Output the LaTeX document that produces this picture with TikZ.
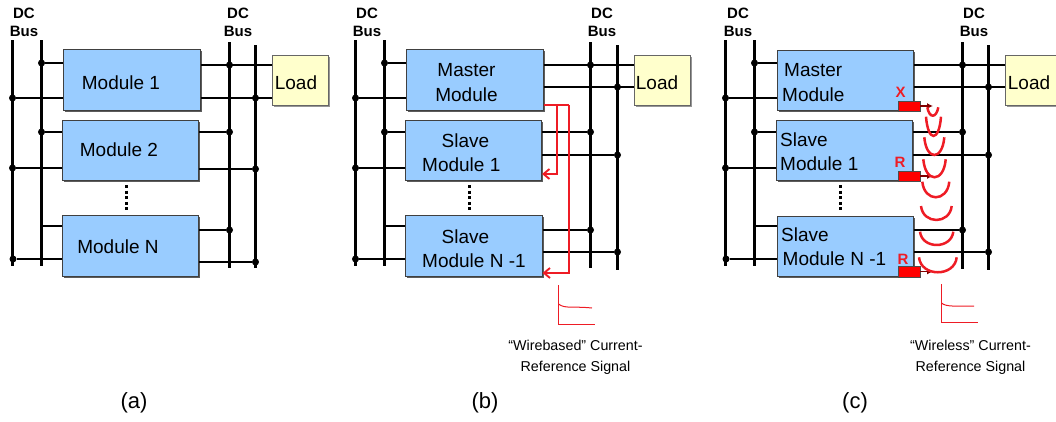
\documentclass[tikz,border=0pt]{standalone}
\usepackage{fontspec}
\setmainfont{Liberation Sans}
\usetikzlibrary{shadows,
                arrows.meta,
                positioning}
\definecolor{moduleblue}{HTML}{99CCFF}
\definecolor{loadyellow}{HTML}{FFFFCC}
\definecolor{signalred}{HTML}{EE1C25}
\tikzset{module/.style =
   {rectangle,
    draw=black!75,
    line width=1pt,
    fill=moduleblue,
    minimum width=136.5pt,
    minimum height=60.5pt,
    inner sep=0pt,
    drop shadow={shadow xshift=1.6pt,shadow yshift=-1.6pt,fill=black!75,opacity=0.85}}}
\tikzset{load/.style =
   {rectangle,
    draw=black!60,
    line width=0.8pt,
    fill=loadyellow,
    minimum width=56pt,
    minimum height=50pt,
    inner sep=0pt,
    drop shadow={shadow xshift=2pt,shadow yshift=-2pt,fill=black!55,opacity=0.75}}}
\tikzset{modtext/.style =
   {align=left,
    inner sep=0pt,
    font=\fontsize{19}{24.5}\selectfont}}
\tikzset{looktext/.style =
   {align=center,
    inner sep=0pt,
    font=\fontsize{19}{24.5}\selectfont}}
\tikzset{bustext/.style =
   {align=center,
    inner sep=0pt,
    font=\fontsize{15}{18}\selectfont\bfseries}}
\tikzset{captext/.style =
   {align=center,
    inner sep=0pt,
    font=\fontsize{14.3}{21}\selectfont}}
\tikzset{tagtext/.style =
   {inner sep=0pt,
    text=signalred,
    font=\fontsize{15}{15}\selectfont\bfseries}}
\tikzset{subtext/.style =
   {inner sep=0pt,
    font=\fontsize{22}{22}\selectfont}}
\tikzset{bus/.style = {draw, line width=2.6pt}}
\tikzset{wire/.style = {draw, line width=1.5pt}}
\tikzset{busdot/.style = {circle, fill=black, inner sep=0pt, minimum size=7pt}}
\tikzset{vdots/.style = {draw, line width=3.4pt, dash pattern=on 3pt off 2.6pt}}
\tikzset{redline/.style = {draw=signalred, line width=1.9pt}}
\tikzset{redarrow/.style = {draw=signalred, line width=1.9pt, -{Straight Barb[length=6pt,width=10pt]}}}
\tikzset{thinred/.style = {draw=signalred, line width=1pt}}
\tikzset{radioarc/.style = {draw=signalred, line width=2.5pt}}
\tikzset{radiobox/.style =
   {rectangle,
    draw=black!70,
    fill=red,
    minimum width=22.5pt,
    minimum height=10.5pt,
    inner sep=0pt}}
\tikzset{radioout/.style = {draw=black!50!red, line width=1.5pt, -{Latex[length=6pt,width=6pt]}}}

\begin{document}
\begin{tikzpicture}[x=1pt,y=-1pt]

    \clip (0,0) rectangle (1056,421);

    \foreach \busname/\busx/\bustop/\busend in
       {aL1/12.5/40/266,aL2/41.5/40/266,aR1/229.5/42/268,aR2/255.5/45/268,
        bL1/355.5/40/266,bL2/384.5/40/266,bR1/590.5/42/268,bR2/617.5/45/270,
        cL1/725.5/40/266,cL2/754.5/40/266,cR1/962.5/42/269,cR2/988.5/45/270} {
        \coordinate (\busname top) at (\busx,\bustop);
        \coordinate (\busname end) at (\busx,\busend);
        \draw [bus] (\busname top) -- (\busname end);
    }

    \node [module] (amod1) at (131.75,80) {};
    \node [module] (amod2) at (130.5,150.5) {};
    \node [module] (amodn) at (130.5,246) {};
    \node [module] (bmod1) at (474.75,80) {};
    \node [module] (bmod2) at (473.25,150.5) {};
    \node [module] (bmodn) at (473.75,246) {};
    \node [module] (cmod1) at (845.5,80.25) {};
    \node [module] (cmod2) at (844.25,150.5) {};
    \node [module] (cmodn) at (845.5,246.5) {};

    \node [load] (aload) at (300,80) {};
    \node [load] (bload) at (662,80) {};
    \node [load] (cload) at (1033,80) {};

    \foreach \dotname/\dotx/\doty/\modname in
       {a1/41.5/63/amod1,a2/12.5/98/amod1,a3/41.5/132/amod2,a4/12.5/168/amod2,a5/13/259/amodn,
        b1/384.5/63/bmod1,b2/355.5/98/bmod1,b3/384.5/132/bmod2,b4/355.5/168/bmod2,b5/355.5/259/bmodn,
        c1/754.5/63/cmod1,c2/725.5/98/cmod1,c3/754.5/132/cmod2,c4/725.5/168/cmod2,c5/726/259/cmodn} {
        \node [busdot] (\dotname) at (\dotx,\doty) {};
        \draw [wire] (\dotname) -- (\dotname -| \modname.west);
    }

    \foreach \dotname/\dotx/\doty/\modname in
       {a6/229.5/132/amod2,a7/255.5/169/amod2,a8/229.5/230/amodn,a9/255.5/262/amodn,
        b6/590.5/132/bmod2,b7/617.5/155/bmod2,b8/590.5/230/bmodn,b9/617.5/252/bmodn,
        c6/962.5/132/cmod2,c7/988.5/155/cmod2,c8/962.5/230/cmodn,c9/988.5/252/cmodn} {
        \node [busdot] (\dotname) at (\dotx,\doty) {};
        \draw [wire] (\dotname -| \modname.east) -- (\dotname);
    }

    \foreach \dotname/\dotx/\doty/\modname/\loadname in
       {a10/229.5/65/amod1/aload,a11/255.5/98/amod1/aload,
        b10/590.5/65/bmod1/bload,b11/617.5/87/bmod1/bload,
        c10/962.5/65/cmod1/cload,c11/988.5/87/cmod1/cload} {
        \node [busdot] (\dotname) at (\dotx,\doty) {};
        \draw [wire] (\dotname -| \modname.east) -- (\dotname -| \loadname.west);
    }

    \draw [wire] (aL2top |- 0,226) -- (amodn.west |- 0,226);
    \draw [wire] (bL2top |- 0,226) -- (bmodn.west |- 0,226);
    \draw [wire] (cL2top |- 0,226) -- (cmodn.west |- 0,226);

    \node [modtext] (atext1) at (121,83) {Module 1};
    \node [modtext] (atext2) at (119,150) {Module 2};
    \node [modtext] (atextn) at (118,247) {Module N};
    \node [looktext] (btext1) at (466.5,82.5) {Master\\Module};
    \node [modtext, anchor=west] (btext2) at (422,152.5) {\hspace*{19.5pt}Slave\\Module 1};
    \node [modtext, anchor=west] (btextn) at (422,248.5) {\hspace*{19.5pt}Slave\\Module N -1};
    \node [modtext, anchor=west] (ctext1) at (782,82.5) {\hspace*{2pt}Master\\Module};
    \node [modtext, anchor=west] (ctext2) at (780,151.5) {Slave\\Module 1};
    \node [modtext, anchor=west] (ctextn) at (781,246.5) {Slave\\\hspace*{1.5pt}Module N -1};

    \node [looktext] (atextl) at (296,83) {Load};
    \node [looktext] (btextl) at (657,83) {Load};
    \node [looktext] (ctextl) at (1029,83) {Load};

    \node [bustext] (abus1) at (24,22) {DC\\Bus};
    \node [bustext] (abus2) at (238,22) {DC\\Bus};
    \node [bustext] (bbus1) at (367,22) {DC\\Bus};
    \node [bustext] (bbus2) at (602,22) {DC\\Bus};
    \node [bustext] (cbus1) at (738,22) {DC\\Bus};
    \node [bustext] (cbus2) at (974,22) {DC\\Bus};

    \foreach \gapname/\gapx in {agap/126.5,bgap/469.5,cgap/840.5} {
        \coordinate (\gapname top) at (\gapx,185);
        \coordinate (\gapname end) at (\gapx,213);
        \draw [vdots] (\gapname top) -- (\gapname end);
    }

    \coordinate (wireout) at (bmod1.east |- 0,105);
    \coordinate (wirefork) at (557,105);
    \coordinate (wirecorner) at (569,105);
    \draw [redline] (wireout) -- (wirecorner);
    \draw [redarrow] (wirefork) -- (wirefork |- 0,174) -- (bmod2.east |- 0,174);
    \draw [redarrow] (wirecorner) -- (wirecorner |- 0,273) -- (bmodn.east |- 0,273);

    \draw [thinred] (558.5,285) -- (558.5,324) -- (595,324);
    \draw [thinred] (558.5,304) .. controls (565,309) and (572,306) .. (592,308);
    \draw [thinred] (941.5,284) -- (941.5,322) -- (978,322);
    \draw [thinred] (941.5,303) .. controls (946,307) and (955,306) .. (974,306);

    \node [captext] (bcap) at (575.5,357) {``Wirebased'' Current-\\Reference Signal};
    \node [captext] (ccap) at (970.5,357) {``Wireless'' Current-\\Reference Signal};

    \node [radiobox] (ctx) at (909,106) {};
    \node [radiobox] (crx1) at (909,176) {};
    \node [radiobox] (crx2) at (909,271.5) {};
    \coordinate (ctxtip) at (933,106);
    \coordinate (crx1tip) at (933,176);
    \coordinate (crx2tip) at (933,271.5);
    \draw [radioout] (ctx) -- (ctxtip);
    \draw [radioout] (crx1) -- (crx1tip);
    \draw [radioout] (crx2) -- (crx2tip);
    \node [tagtext] (ctag) at (900.5,92) {X};
    \node [tagtext] (crag1) at (900,162) {R};
    \node [tagtext] (crag2) at (903,259) {R};

    \foreach \arcl/\arcr/\arct/\arcb in
       {927.3/938.3/107.3/115.7,
        926/941/116.7/136,
        924.3/944.3/137.3/155,
        923.3/945.7/159.3/177.3,
        922.3/949.3/181.7/197.3,
        921/951.7/206/220,
        920/953.3/231.7/245,
        919/956.7/257.3/272.3} {
        \draw [radioarc] (\arcl,\arct)
            .. controls (\arcl+2,{\arct+1.33*(\arcb-\arct)}) and (\arcr-2,{\arct+1.33*(\arcb-\arct)})
            .. (\arcr,\arct);
    }

    \node [subtext] (asub) at (134,403) {(a)};
    \node [subtext] (bsub) at (485,403) {(b)};
    \node [subtext] (csub) at (855,403) {(c)};

\end{tikzpicture}
\end{document}
